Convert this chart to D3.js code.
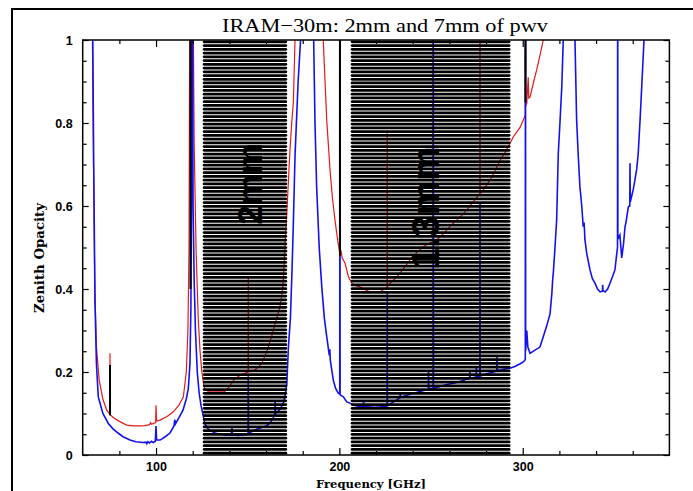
<!DOCTYPE html>
<html>
<head>
<meta charset="utf-8">
<script src="https://cdn.jsdelivr.net/npm/d3@7"></script>
<style>
  body { margin: 0; background: #fff; }
  svg text { fill: #000; }
</style>
</head>
<body>
<div id="chart"></div>
<script>
// atmospheric zenith opacity, IRAM-30m: [GHz, opacity]
const pwv2mm = [
  [60, 3], [64, 1.5], [65.5, 1.0], [66.0, 0.7], [66.7, 0.37], [67.5, 0.22], [68.5, 0.14], [71, 0.1], [74, 0.076],
  [76.5, 0.063], [79.3, 0.053], [82, 0.044], [85.8, 0.036], [89, 0.032], [93, 0.030], [94.5, 0.031], [95, 0.027],
  [95.5, 0.032], [96.5, 0.029], [97.5, 0.033], [98.5, 0.030], [99.6, 0.033], [100, 0.07], [100.3, 0.036],
  [102.2, 0.036], [105, 0.044], [107.6, 0.053], [109.8, 0.07], [110.2, 0.085], [110.6, 0.075], [112.5, 0.09],
  [114.7, 0.108], [116.5, 0.135], [117.6, 0.16], [118.5, 0.22], [119.0, 0.35], [119.3, 0.6], [119.5, 1.3],
  [119.8, 1.3], [120.2, 0.6], [120.8, 0.42], [121.5, 0.3], [122.5, 0.2], [123.5, 0.15], [124.5, 0.12],
  [125.5, 0.1], [126.7, 0.075], [128, 0.065], [130, 0.058], [132.2, 0.053], [135, 0.05], [138, 0.048],
  [141, 0.048], [141.4, 0.065], [141.8, 0.048], [145, 0.047], [147.6, 0.048], [150.2, 0.05], [150.3, 0.19],
  [150.4, 0.052], [152, 0.056], [154.9, 0.062], [157.6, 0.066], [160, 0.07], [162.2, 0.077], [164, 0.09],
  [164.8, 0.1], [165, 0.13], [165.2, 0.1], [166.5, 0.105], [167.6, 0.11], [169.4, 0.125], [170.5, 0.145],
  [171.3, 0.17], [172.2, 0.26], [173.3, 0.33], [174.2, 0.45], [174.9, 0.56], [175.8, 0.72], [177.5, 0.9],
  [179.5, 1.05], [183, 3], [185.8, 1.05], [186.7, 0.8], [187.6, 0.646], [189, 0.5], [190.4, 0.405],
  [191.8, 0.33], [193.1, 0.285], [194.5, 0.24], [194.8, 0.255], [195, 0.23], [196.7, 0.18], [198, 0.16],
  [199.4, 0.149], [200.2, 0.147], [200.3, 1.5], [200.4, 0.145], [202.2, 0.14], [204, 0.128], [205.8, 0.125],
  [208, 0.12], [211.3, 0.116], [213, 0.118], [213.2, 0.13], [213.4, 0.117], [216, 0.116], [219, 0.115],
  [222.2, 0.116], [226.0, 0.118], [226.1, 0.39], [226.2, 0.118], [228.5, 0.125], [231.3, 0.133], [233, 0.138],
  [233.2, 0.15], [233.4, 0.139], [236, 0.143], [240.3, 0.149], [244, 0.153], [247.6, 0.157], [248.5, 0.158],
  [248.6, 0.2], [248.8, 0.16], [251.1, 0.16], [251.2, 1.5], [251.3, 0.16], [254.9, 0.165], [258.5, 0.17],
  [262.2, 0.173], [265, 0.176], [267.6, 0.18], [271, 0.185], [271.2, 0.2], [271.4, 0.185], [274.5, 0.188],
  [274.7, 0.21], [274.9, 0.188], [276.6, 0.189], [276.7, 0.61], [276.8, 0.19], [280, 0.195], [284, 0.2],
  [285.8, 0.202], [286, 0.24], [286.2, 0.203], [287.6, 0.205], [290, 0.207], [293.1, 0.209], [296, 0.214],
  [298.6, 0.22], [300.5, 0.225], [301.4, 0.23], [301.5, 1.5], [301.6, 0.25], [302.2, 0.3], [302.8, 0.26],
  [304, 0.245], [306.5, 0.252], [309.4, 0.26], [311.2, 0.285], [313, 0.31], [314.9, 0.34], [315.9, 0.39],
  [316.3, 0.42], [316.7, 0.44], [317.6, 0.5], [318.5, 0.566], [319.4, 0.727], [320.3, 0.8], [321.3, 0.887],
  [322.1, 1.0], [325, 3], [328.5, 1.0], [329.4, 0.807], [330.3, 0.72], [331.2, 0.646], [332.2, 0.6],
  [333, 0.55], [333.5, 0.56], [333.9, 0.52], [334.9, 0.486], [336.7, 0.446], [338, 0.425], [339.4, 0.414],
  [340.8, 0.4], [342.2, 0.393], [343.5, 0.395], [343.6, 0.41], [343.8, 0.396], [344.9, 0.393], [346.3, 0.4],
  [347.6, 0.414], [349, 0.43], [350.3, 0.446], [351.3, 0.486], [351.7, 0.5], [351.8, 1.5], [351.9, 0.52],
  [353, 0.53], [354, 0.475], [355, 0.51], [355.8, 0.55], [356.3, 0.56], [357.6, 0.598], [358.4, 0.6],
  [358.5, 0.703], [358.7, 0.61], [360.3, 0.64], [361.2, 0.663], [362.2, 0.69], [363, 0.727], [364, 0.807],
  [364.9, 0.887], [365.8, 0.968], [366.7, 1.05], [370, 3], [380, 5]
];

const pwv7mm = [
  [60, 3], [64, 1.5], [65.3, 1.0], [65.9, 0.7], [66.6, 0.4], [67.5, 0.26], [69, 0.18], [71, 0.135],
  [73.1, 0.108], [74.8, 0.098], [74.9, 0.245], [75.0, 0.097], [77, 0.089], [80, 0.081], [84, 0.072],
  [88, 0.07], [91.3, 0.07], [94, 0.071], [96.5, 0.073], [97, 0.078], [97.5, 0.074], [99.8, 0.078],
  [100, 0.12], [100.3, 0.082], [102.2, 0.084], [106, 0.093], [109.4, 0.104], [112.5, 0.12], [114.9, 0.14],
  [116.5, 0.2], [117.4, 0.3], [118, 0.5], [118.4, 1.1], [119, 3], [120.2, 1.1], [120.8, 0.75], [121.8, 0.5],
  [123, 0.33], [124, 0.25], [125, 0.2], [126, 0.17], [126.7, 0.157], [128.5, 0.153], [133, 0.152],
  [137.6, 0.153], [140, 0.165], [142.2, 0.18], [145, 0.19], [148.5, 0.197], [150.2, 0.2], [150.3, 0.43],
  [150.4, 0.2], [154, 0.205], [157.6, 0.22], [159.5, 0.24], [161.2, 0.26], [163, 0.285], [164.9, 0.317],
  [166.2, 0.335], [167.6, 0.357], [168.6, 0.385], [169.4, 0.42], [170.3, 0.5], [171.3, 0.58], [172.2, 0.66],
  [173, 0.73], [174, 0.8], [174.9, 0.85], [175.8, 1.0], [177, 1.3], [183, 3], [190, 1.3], [191.2, 1.0],
  [193.1, 0.807], [194.9, 0.687], [196.2, 0.62], [197.6, 0.566], [199, 0.52], [200.2, 0.486], [200.3, 1.5],
  [200.4, 0.486], [201, 0.49], [201.5, 0.475], [203.1, 0.462], [204.9, 0.43], [206.7, 0.414], [209, 0.408],
  [211.3, 0.405], [214, 0.398], [216.7, 0.393], [219.5, 0.392], [222.2, 0.393], [224.5, 0.4], [226.0, 0.403],
  [226.1, 0.775], [226.2, 0.405], [227.6, 0.414], [230.4, 0.425], [233.1, 0.438], [236, 0.455], [238.5, 0.47],
  [242, 0.487], [245.8, 0.502], [249, 0.51], [251.1, 0.514], [251.2, 1.5], [251.3, 0.515], [253.1, 0.518],
  [256, 0.53], [258.5, 0.542], [261, 0.554], [264, 0.566], [267, 0.578], [269.4, 0.59], [273, 0.61],
  [276.6, 0.63], [276.7, 1.5], [276.8, 0.63], [279.5, 0.645], [282.2, 0.663], [285, 0.685], [287.6, 0.71],
  [290.5, 0.73], [293.1, 0.751], [294.9, 0.767], [297, 0.78], [298.6, 0.79], [300.3, 0.807], [301.4, 0.82],
  [301.5, 1.5], [301.6, 0.84], [302.2, 0.847], [303, 0.91], [303.3, 0.86], [304, 0.863], [306, 0.9],
  [307.6, 0.928], [309.5, 0.965], [311.2, 1.0], [313, 1.05], [320, 3], [380, 5]
];

// narrow black lines: [GHz, from, to]
const blackLines = [[74.9, 0.096, 0.217], [118.8, 0.4, 1.0], [200.3, 0.48, 1.0], [301.5, 0.85, 1.0]];

// receiver bands (hatched)
const bandNames = ["2mm", "1.3mm"];
const bandLow = [125.5, 206.2];
const bandHigh = [171.5, 293.3];

const xMajorTicks = [100, 200, 300];
const xMinorTicks = [80, 120, 140, 160, 180, 220, 240, 260, 280, 320, 340, 360];
const yMajorTicks = [0, 0.2, 0.4, 0.6, 0.8, 1];
const yMinorTicks = [0.05, 0.1, 0.15, 0.25, 0.3, 0.35, 0.45, 0.5, 0.55, 0.65, 0.7, 0.75, 0.85, 0.9, 0.95];

const W = 693, H = 491;
const plotLeft = 82.7, plotRight = 669.4, plotTop = 40, plotBottom = 455;

const svg = d3.select("#chart").append("svg")
    .attr("width", W)
    .attr("height", H);

// outer frame
svg.append("rect")
    .attr("x", 12).attr("y", 9)
    .attr("width", 700).attr("height", 520)
    .attr("fill", "none")
    .attr("stroke", "#000")
    .attr("stroke-width", 2);

const x = d3.scaleLinear().domain([60, 380]).range([plotLeft, plotRight]);
const y = d3.scaleLinear().domain([0, 1]).range([plotBottom, plotTop]);

svg.append("clipPath").attr("id", "plotClip")
  .append("rect")
    .attr("x", plotLeft).attr("y", plotTop)
    .attr("width", plotRight - plotLeft).attr("height", plotBottom - plotTop);

const plot = svg.append("g").attr("clip-path", "url(#plotClip)");

const line = d3.line()
    .x(d => x(d[0]))
    .y(d => y(Math.min(d[1], 1.3)));

plot.append("path")
    .datum(pwv7mm)
    .attr("d", line)
    .attr("fill", "none")
    .attr("stroke", "#e21a1a")
    .attr("stroke-width", 1.2);

plot.append("path")
    .datum(pwv2mm)
    .attr("d", line)
    .attr("fill", "none")
    .attr("stroke", "#1212ee")
    .attr("stroke-width", 1.6);

plot.selectAll(".blk")
    .data(blackLines)
    .enter().append("line")
    .attr("x1", d => x(d[0])).attr("x2", d => x(d[0]))
    .attr("y1", d => y(d[1])).attr("y2", d => y(d[2]))
    .attr("stroke", "#000")
    .attr("stroke-width", 2);

// hatched bands: thick horizontal strokes with thin white gaps
const stripes = d3.range(0, 111).map(i => (i + 0.5) / 111);
bandNames.forEach((name, i) => {
    const g = svg.append("g");
    g.selectAll("line")
        .data(stripes)
        .enter().append("line")
        .attr("x1", x(bandLow[i]) + 1.3)
        .attr("x2", x(bandHigh[i]) - 1.3)
        .attr("y1", d => y(d))
        .attr("y2", d => y(d))
        .attr("stroke", "#000")
        .attr("stroke-width", 2.75)
        .attr("stroke-linecap", "round");
});

// band labels
const labelPos = [[249, 184, 35], [425, 208, 39]];
bandNames.forEach((name, i) => {
    svg.append("text")
        .attr("transform", `translate(${labelPos[i][0]},${labelPos[i][1]}) rotate(-90)`)
        .attr("text-anchor", "middle")
        .attr("dy", "0.36em")
        .style("font-family", "'Liberation Sans', Arial, sans-serif")
        .style("font-weight", "bold")
        .style("font-size", labelPos[i][2] + "px")
        .text(name);
});

// axes with inward ticks
const tickFont = "'Liberation Sans', Arial, sans-serif";

function styleAxis(g) {
    g.select(".domain").remove();
    g.selectAll("line").attr("stroke", "#000").attr("stroke-width", 1.2);
    g.selectAll("text")
        .style("font-family", tickFont)
        .style("font-weight", "bold")
        .style("font-size", "12.5px")
        .attr("fill", "#000");
}

svg.append("g")
    .attr("transform", `translate(0,${plotBottom})`)
    .call(d3.axisBottom(x).tickValues(xMajorTicks).tickSize(-7).tickPadding(7).tickFormat(d3.format("d")))
    .call(styleAxis);
svg.append("g")
    .attr("transform", `translate(0,${plotBottom})`)
    .call(d3.axisBottom(x).tickValues(xMinorTicks).tickSize(-4).tickFormat(""))
    .call(styleAxis);
svg.append("g")
    .attr("transform", `translate(0,${plotTop})`)
    .call(d3.axisTop(x).tickValues(xMajorTicks).tickSize(-7).tickFormat(""))
    .call(styleAxis);
svg.append("g")
    .attr("transform", `translate(0,${plotTop})`)
    .call(d3.axisTop(x).tickValues(xMinorTicks).tickSize(-4).tickFormat(""))
    .call(styleAxis);

svg.append("g")
    .attr("transform", `translate(${plotLeft},0)`)
    .call(d3.axisLeft(y).tickValues(yMajorTicks).tickSize(-6).tickPadding(10).tickFormat(d3.format("")))
    .call(styleAxis);
svg.append("g")
    .attr("transform", `translate(${plotLeft},0)`)
    .call(d3.axisLeft(y).tickValues(yMinorTicks).tickSize(-4).tickFormat(""))
    .call(styleAxis);
svg.append("g")
    .attr("transform", `translate(${plotRight},0)`)
    .call(d3.axisRight(y).tickValues(yMajorTicks).tickSize(-6).tickFormat(""))
    .call(styleAxis);
svg.append("g")
    .attr("transform", `translate(${plotRight},0)`)
    .call(d3.axisRight(y).tickValues(yMinorTicks).tickSize(-4).tickFormat(""))
    .call(styleAxis);

// plot frame
svg.append("rect")
    .attr("x", plotLeft).attr("y", plotTop)
    .attr("width", plotRight - plotLeft).attr("height", plotBottom - plotTop)
    .attr("fill", "none")
    .attr("stroke", "#000")
    .attr("stroke-width", 1.5);

// titles
svg.append("text")
    .attr("x", 385).attr("y", 32)
    .attr("text-anchor", "middle")
    .attr("textLength", 326)
    .attr("lengthAdjust", "spacingAndGlyphs")
    .style("font-family", "'Liberation Serif', 'Times New Roman', serif")
    .style("font-size", "19px")
    .text("IRAM\u221230m: 2mm and 7mm of pwv");

svg.append("text")
    .attr("x", 371).attr("y", 488)
    .attr("text-anchor", "middle")
    .attr("textLength", 110)
    .attr("lengthAdjust", "spacingAndGlyphs")
    .style("font-family", "'DejaVu Serif', serif")
    .style("font-weight", "bold")
    .style("font-size", "11px")
    .text("Frequency [GHz]");

svg.append("text")
    .attr("transform", "translate(44,258) rotate(-90)")
    .attr("text-anchor", "middle")
    .attr("textLength", 110)
    .attr("lengthAdjust", "spacingAndGlyphs")
    .style("font-family", "'DejaVu Serif', serif")
    .style("font-weight", "bold")
    .style("font-size", "12px")
    .text("Zenith Opacity");
</script>
</body>
</html>
